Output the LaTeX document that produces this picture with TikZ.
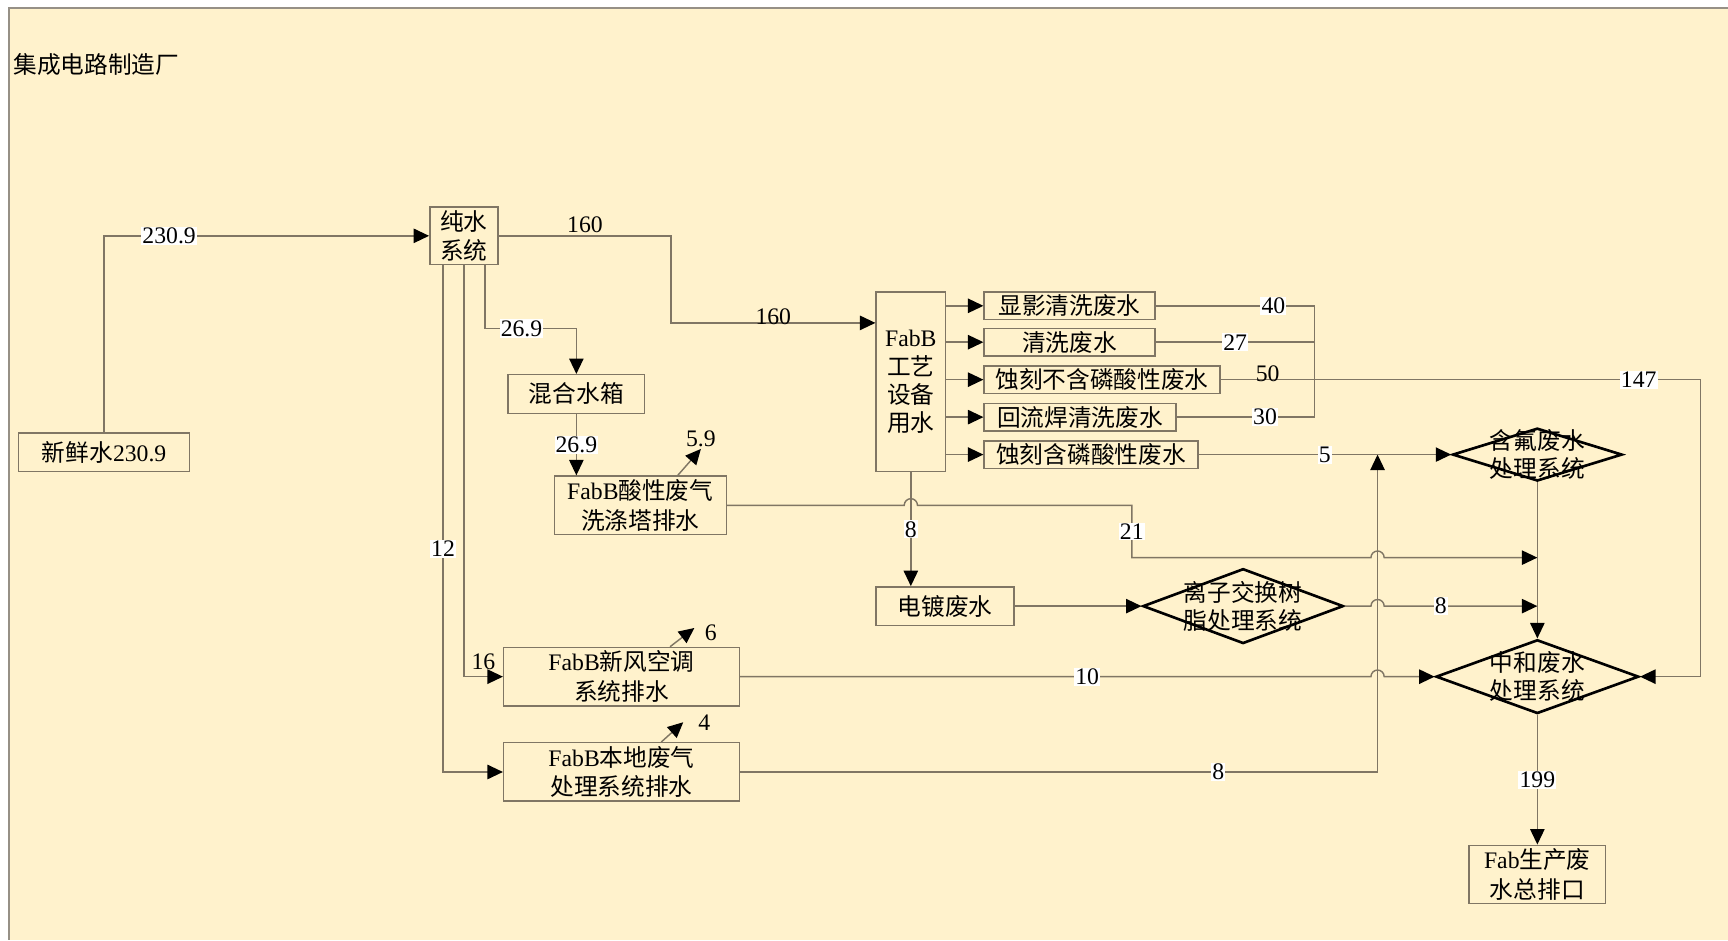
\documentclass[tikz,border=0pt]{standalone}
\usepackage{fontspec}
\setmainfont{Liberation Serif}
\newfontfamily\cjk{Noto Sans CJK SC}
\usetikzlibrary{arrows.meta,shapes.geometric,calc}

\definecolor{paper}{RGB}{255,242,204}
\definecolor{wline}{RGB}{128,118,100}
\definecolor{frameline}{RGB}{150,144,134}

\newcommand\bodysize{\fontsize{21.5pt}{27pt}\selectfont}
\newcommand\tightsize{\fontsize{21.5pt}{25.5pt}\selectfont}
\newcommand\lat[1]{{\rmfamily #1}}

\tikzset{
  box/.style={draw=wline, line width=1.3pt, inner sep=0pt, align=center, text=black, font=\cjk\bodysize},
  treat/.style={diamond, draw=black, line width=2.4pt, inner sep=0pt},
  flow/.style={wline, line width=1.3pt, -{Triangle[length=14pt, width=13pt, color=black]}},
  pipe/.style={wline, line width=1.3pt},
  qty/.style={fill=white, text=black, inner sep=1pt, font=\rmfamily\bodysize},
  lbl/.style={text=black, inner sep=1pt, font=\rmfamily\bodysize},
}

\begin{document}
\begin{tikzpicture}[x=1pt, y=-1pt]
\useasboundingbox (0,0) rectangle (1568,853);

% the sheet
\fill[paper] (8,7) rectangle (1568,853);
\draw[frameline, line width=2pt] (1568,7) -- (8,7) -- (8,853);
\node[anchor=west, inner sep=0pt, font=\cjk\bodysize] (title) at (12,59) {集成电路制造厂};

% supply side
\node[box, minimum width=155pt, minimum height=35pt] (fresh) at (94.5,410.5) {新鲜水\lat{230.9}};
\node[box, minimum width=62pt, minimum height=52pt] (pure) at (421,214) {纯水\\系统};
\node[box, minimum width=124pt, minimum height=35pt] (mix) at (523,357.5) {混合水箱};
\node[box, minimum width=156pt, minimum height=53pt] (acid) at (581,458.5) {\lat{FabB}酸性废气\\洗涤塔排水};
\node[box, minimum width=214pt, minimum height=53pt] (hvac) at (564,614) {\lat{FabB}新风空调\\系统排水};
\node[box, minimum width=214pt, minimum height=53pt] (exh) at (564,700.5) {\lat{FabB}本地废气\\处理系统排水};

% process water and its wastes
\node[box, minimum width=63pt, minimum height=163pt, font=\cjk\tightsize] (fab) at (826.5,346.5) {\lat{FabB}\\工艺\\设备\\用水};
\node[box, minimum width=155pt, minimum height=25pt] (w1) at (970.5,277.5) {显影清洗废水};
\node[box, minimum width=155pt, minimum height=25pt] (w2) at (970.5,310.5) {清洗废水};
\node[box, minimum width=214pt, minimum height=25pt] (w3) at (1000,344.5) {蚀刻不含磷酸性废水};
\node[box, minimum width=174pt, minimum height=25pt] (w4) at (980,378.5) {回流焊清洗废水};
\node[box, minimum width=194pt, minimum height=25pt] (w5) at (990,412.5) {蚀刻含磷酸性废水};
\node[box, minimum width=125pt, minimum height=35pt] (plate) at (857.5,550) {电镀废水};

% treatment
\node[treat, minimum width=182pt, minimum height=68pt,
  label={[font=\cjk\tightsize, align=center]center:离子交换树\\脂处理系统}] (ion) at (1128,550) {};
\node[treat, minimum width=154pt, minimum height=48pt,
  label={[font=\cjk\tightsize, align=center]center:含氟废水\\处理系统}] (fluo) at (1395,412.5) {};
\node[treat, minimum width=184pt, minimum height=67pt,
  label={[font=\cjk\tightsize, align=center]center:中和废水\\处理系统}] (neut) at (1395,614) {};
\node[box, minimum width=124pt, minimum height=53pt] (outlet) at (1395,793.5) {\lat{Fab}生产废\\水总排口};

\coordinate (bus) at (1193,277);
\coordinate (junc) at (1250,412.5);
\coordinate (ret) at (1543,344.5);

% pure water system
\draw[flow] (fresh.north) |- node[qty, pos=0.6] (q1) {230.9} (pure.west);
\draw[flow] (pure.east) -- node[lbl, above, inner sep=2pt] (q2) {160} (609,214) -- (609,293)
  -- node[lbl, yshift=6pt] (q3) {160} (fab.west |- 0,293);
\draw[flow] ($(pure.south)+(19,0)$) |- node[qty, pos=0.7] (q4) {26.9} (mix.north |- 0,298) -- (mix.north);
\draw[flow] (mix.south) -- node[qty] (q5) {26.9} (mix.south |- acid.north);
\draw[flow] ($(acid.north)+(34,0)$) -- ++(21,-24) node[lbl, above] (q6) {5.9};
\draw[flow] (pure.south) |- node[lbl, above, pos=0.75, yshift=5pt] (q8) {16} (hvac.west);
\draw[flow] ($(pure.south)+(-19,0)$) |- node[qty, pos=0.28] (q9) {12} (exh.west);
\draw[flow] ($(hvac.north)+(44,0)$) -- ++(22,-17) node[lbl, anchor=west, xshift=8pt, yshift=-4pt] (q10) {6};
\draw[flow] ($(exh.north)+(36,0)$) -- ++(20,-18) node[lbl, anchor=west, xshift=12pt] (q11) {4};

% scrubber, air handling and exhaust drains
\draw[flow] (acid.east) -- ($(fab.south |- acid.east)+(-6,0)$) arc[start angle=180, end angle=0, radius=6pt]
  -- (1027,458.5) -- node[qty] (q7) {21} (1027,506)
  -- ($(junc |- 0,506)+(-6,0)$) arc[start angle=180, end angle=0, radius=6pt] -- (fluo.south |- 0,506);
\draw[flow] (hvac.east) -- node[qty, pos=0.55] (q12) {10} ($(junc |- hvac.east)+(-6,0)$)
  arc[start angle=180, end angle=0, radius=6pt] -- (neut.west);
\draw[flow] (exh.east) -- node[qty, pos=0.75] (q13) {8} (junc |- exh.east) -- (junc);

% process wastes
\foreach \w in {w1,w2,w3,w4,w5}
  \draw[flow] (fab.east |- \w.west) -- (\w.west);
\draw[pipe] (w1.east) -- node[qty, pos=0.74] (q14) {40} (bus |- w1.east);
\draw[pipe] (w2.east) -- node[qty] (q15) {27} (bus |- w2.east);
\draw[pipe] (w4.east) -- node[qty, pos=0.64] (q16) {30} (bus |- w4.east);
\draw[pipe] (bus |- w1.east) -- (bus |- w4.east);
\draw[flow] (w3.east) -- node[lbl, yshift=5pt] (q17) {50} (bus |- w3.east)
  -- node[qty, pos=0.84] (q18) {147} (ret) |- (neut.east);
\draw[flow] (w5.east) -- node[qty] (q19) {5} (fluo.west);

% plating line and outlet
\draw[flow] (fab.south) -- node[qty] (q20) {8} (fab.south |- plate.north);
\draw[flow] (plate.east) -- (ion.west);
\draw[flow] (ion.east) -- ($(junc |- ion.east)+(-6,0)$) arc[start angle=180, end angle=0, radius=6pt]
  -- node[qty, pos=0.37] (q21) {8} (fluo.south |- ion.east);
\draw[flow] (fluo.south) -- (neut.north);
\draw[flow] (neut.south) -- node[qty] (q22) {199} (outlet.north);

\end{tikzpicture}
\end{document}
